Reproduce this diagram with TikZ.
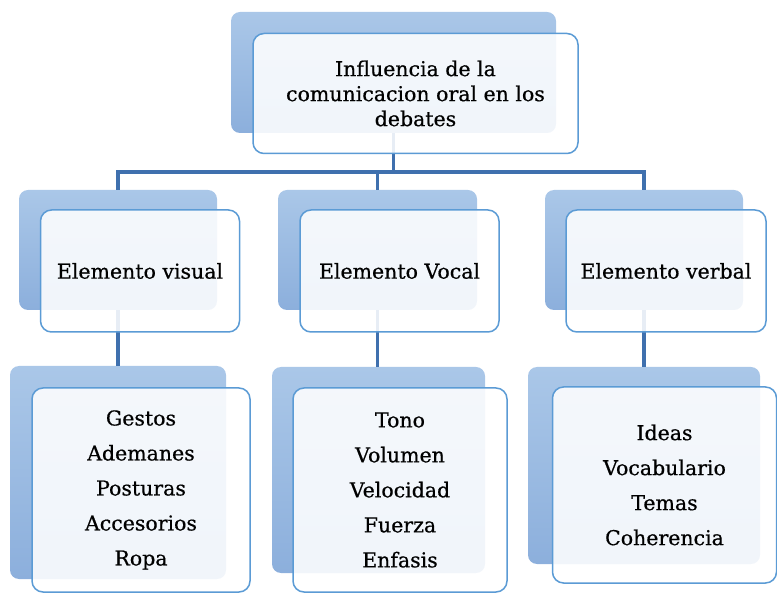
\documentclass[tikz,border=0pt]{standalone}
\usepackage{fontspec}
\setmainfont{DejaVu Serif}[FakeBold=0.6]
\usetikzlibrary{calc, positioning}

\definecolor{backlight}{HTML}{AAC7E8}
\definecolor{backdark}{HTML}{8CAFDC}
\definecolor{frontline}{HTML}{5B9BD5}
\definecolor{linkblue}{HTML}{3F70AE}

\tikzset{
	backbox/.style = {rounded corners = 9pt, top color = backlight, bottom color = backdark, inner sep = 0pt},
	frontbox/.style = {draw = frontline, line width = 1.5pt, fill = white, fill opacity = 0.88, text opacity = 1,
		rounded corners = 11pt, align = center, inner sep = 0pt, font = \fontsize{20.5}{25}\selectfont},
	listbox/.style = {frontbox, font = \fontsize{20.5}{35}\selectfont},
	link/.style = {linkblue, line width = 3.3pt},
}

\begin{document}
\begin{tikzpicture}[x = 1pt, y = 1pt]
		\def\dx{22};
		\def\dy{-21};
		
		\useasboundingbox (0,0) rectangle (777,-593);
		
		% back boxes
		\begin{scope}
			\node [backbox, minimum width = 325, minimum height = 121] (topb) at (393.5,-72.5) {};
			\node [backbox, minimum width = 198, minimum height = 120] (visb) at (118,-250) {};
			\node [backbox, minimum width = 199, minimum height = 120] (vocb) at (377.5,-250) {};
			\node [backbox, minimum width = 198, minimum height = 120] (verb) at (644,-250) {};
			\node [backbox, minimum width = 216, minimum height = 213] (visl) at (118,-472.5) {};
			\node [backbox, minimum width = 213, minimum height = 206] (vocl) at (378.5,-470) {};
			\node [backbox, minimum width = 232, minimum height = 197] (verl) at (644,-465.5) {};
		\end{scope}
		
		\coordinate (bus) at (393.5,-172);
		
		\begin{scope}[link]
			\draw (topb.south) -- (topb.south |- bus) -| (visb.north);
			\draw (topb.south) -- (topb.south |- bus) -| (vocb.north);
			\draw (topb.south) -- (topb.south |- bus) -| (verb.north);
			\draw (visb.south) -- (visb.south |- visl.north);
			\draw (vocb.south) -- (vocb.south |- vocl.north);
			\draw (verb.south) -- (verb.south |- verl.north);
		\end{scope}
		
		% front boxes
		\begin{scope}
			\node [frontbox, minimum width = 325, minimum height = 120] (topf) at ($(topb.center) + (\dx,\dy)$)
				{Influencia de la\\comunicacion oral en los\\debates};
			\node [frontbox, minimum width = 199, minimum height = 122] (visf) at ($(visb.center) + (\dx,\dy)$) {Elemento visual};
			\node [frontbox, minimum width = 199, minimum height = 122] (vocf) at ($(vocb.center) + (\dx,\dy)$) {Elemento Vocal};
			\node [frontbox, minimum width = 200, minimum height = 122] (verf) at ($(verb.center) + (\dx,\dy)$) {Elemento verbal};
			\node [listbox, minimum width = 218, minimum height = 204] (visg) at (141,-490)
				{Gestos\\Ademanes\\Posturas\\Accesorios\\Ropa};
			\node [listbox, minimum width = 214, minimum height = 204] (vocg) at (400,-490)
				{Tono\\Volumen\\Velocidad\\Fuerza\\Enfasis};
			\node [listbox, minimum width = 224, minimum height = 196] (verg) at (664.5,-485)
				{Ideas\\Vocabulario\\Temas\\Coherencia};
		\end{scope}
	\end{tikzpicture}
\end{document}
